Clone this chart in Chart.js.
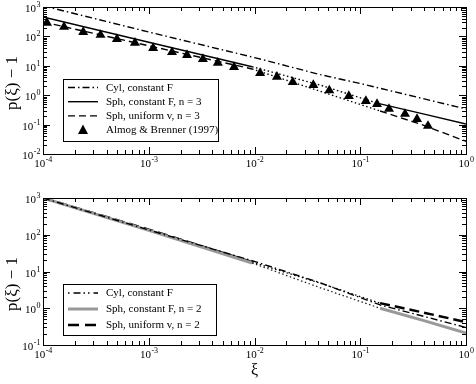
<!DOCTYPE html>
<html>
<head>
<meta charset="utf-8">
<script src="https://cdn.jsdelivr.net/npm/chart.js@4"></script>
<style>
  body { margin: 0; background: #fff; }
  #wrap { position: relative; width: 476px; height: 384px; background: #fff; }
  canvas { position: absolute; left: 0; }
</style>
</head>
<body>
<div id="wrap">
  <canvas id="top" width="476" height="190" style="top:0"></canvas>
  <canvas id="bottom" width="476" height="194" style="top:190px"></canvas>
</div>
<script>
// upper panel (n = 3)
let cylXi = [1e-4, 1e-3, 1e-2, 0.042, 0.1, 1];
let cylP = [1100, 141, 19, 5.0, 2.5, 0.34];

let sphF3Xi = [1e-4, 1e-3, 0.0095, 0.042, 0.144, 0.367, 1];
let sphF3P = [457, 63, 9.3, 2.2, 0.54, 0.245, 0.105];

let sphV3Xi = [1e-4, 1e-3, 0.0095, 0.042, 0.154, 0.367, 1];
let sphV3P = [310, 48, 7.8, 1.35, 0.29, 0.105, 0.027];

// Almog & Brenner (1997) points
let abXi = [1.09e-4, 1.58e-4, 2.4e-4, 3.5e-4, 5.0e-4, 7.4e-4, 1.1e-3, 1.66e-3, 2.3e-3, 3.25e-3, 4.5e-3, 6.4e-3,
            0.0113, 0.0163, 0.023, 0.036, 0.051, 0.078, 0.113, 0.144, 0.187, 0.265, 0.344, 0.437];
let abP = [290, 210, 141, 112, 81, 60, 40, 29, 23, 17, 12.6, 9.1,
           5.7, 4.2, 2.8, 2.2, 1.45, 0.93, 0.63, 0.50, 0.34, 0.23, 0.155, 0.09];

// lower panel (n = 2)
let cyl2Xi = [1e-4, 1e-3, 0.0105, 0.042, 0.154, 1];
let cyl2P = [1000, 135, 18, 4.9, 1.23, 0.3];

let sphF2Xi = [1e-4, 1e-3, 0.0095, 0.042, 0.154, 0.4, 1];
let sphF2P = [1000, 132, 17, 3.6, 1.0, 0.46, 0.21];

let sphV2Xi = [1e-4, 1e-3, 0.0095, 0.042, 0.154, 0.4, 1];
let sphV2P = [1000, 138, 18, 4.8, 1.38, 0.76, 0.42];

// tick labels (exponents of 10)
let xExps = ['-4', '-3', '-2', '-1', '0'];
let yExpsTop = ['-2', '-1', '0', '1', '2', '3'];
let yExpsBottom = ['-1', '0', '1', '2', '3'];

const serif = '"Liberation Serif", "Times New Roman", serif';

function pts(xs, ys) {
    return xs.map((x, i) => ({ x: x, y: ys[i] }));
}

// middle part of the sphere curves is drawn dotted
function midDash(lo, hi) {
    return ctx => (ctx.p0.parsed.x >= lo && ctx.p1.parsed.x <= hi) ? [1.5, 2.5] : undefined;
}
function midColor(lo, hi, c) {
    return ctx => (ctx.p0.parsed.x >= lo && ctx.p1.parsed.x <= hi) ? c : undefined;
}
function midWidth(lo, hi, w) {
    return ctx => (ctx.p0.parsed.x >= lo && ctx.p1.parsed.x <= hi) ? w : undefined;
}

function drawPow(ctx, exp, x, y, align) {
    ctx.font = '11px ' + serif;
    let w1 = ctx.measureText('10').width;
    ctx.font = '8px ' + serif;
    let w2 = ctx.measureText(exp).width;
    let left = align === 'center' ? x - (w1 + w2) / 2 : x - w1 - w2;
    ctx.textAlign = 'left';
    ctx.textBaseline = 'alphabetic';
    ctx.fillStyle = '#000';
    ctx.font = '11px ' + serif;
    ctx.fillText('10', left, y);
    ctx.font = '8px ' + serif;
    ctx.fillText(exp, left + w1 + 0.5, y - 5);
}

function framePlugin(cfg) {
    return {
        id: 'frame',
        afterDraw(chart) {
            let ctx = chart.ctx;
            let a = chart.chartArea;
            let x = chart.scales.x, y = chart.scales.y;
            ctx.save();
            ctx.strokeStyle = '#000';
            ctx.lineWidth = 1;
            ctx.setLineDash([]);
            ctx.strokeRect(Math.round(a.left) + 0.5, Math.round(a.top) + 0.5,
                Math.round(a.right - a.left), Math.round(a.bottom - a.top));

            // ticks, inward on all sides
            ctx.beginPath();
            for (let d = -4; d <= 0; d++) {
                for (let m = 1; m <= 9; m++) {
                    let v = m * Math.pow(10, d);
                    if (v > 1.0001) break;
                    let px = Math.round(x.getPixelForValue(v)) + 0.5;
                    let len = m === 1 ? 7 : 4;
                    ctx.moveTo(px, a.bottom); ctx.lineTo(px, a.bottom - len);
                    ctx.moveTo(px, a.top); ctx.lineTo(px, a.top + len);
                }
            }
            for (let d = cfg.yMinExp; d <= cfg.yMaxExp; d++) {
                for (let m = 1; m <= 9; m++) {
                    let v = m * Math.pow(10, d);
                    if (v > Math.pow(10, cfg.yMaxExp) * 1.0001) break;
                    let py = Math.round(y.getPixelForValue(v)) + 0.5;
                    let len = m === 1 ? 7 : 4;
                    ctx.moveTo(a.left, py); ctx.lineTo(a.left + len, py);
                    ctx.moveTo(a.right, py); ctx.lineTo(a.right - len, py);
                }
            }
            ctx.stroke();

            // tick labels
            xExps.forEach((e, i) => {
                drawPow(ctx, e, x.getPixelForValue(Math.pow(10, i - 4)), a.bottom + 13, 'center');
            });
            cfg.yExps.forEach((e, i) => {
                drawPow(ctx, e, a.left - 3, y.getPixelForValue(Math.pow(10, cfg.yMinExp + i)) + 5, 'right');
            });

            // axis titles
            ctx.save();
            ctx.translate(13, cfg.yTitleY);
            ctx.rotate(-Math.PI / 2);
            ctx.textAlign = 'center';
            ctx.textBaseline = 'middle';
            ctx.font = '17px ' + serif;
            ctx.fillText('p(ξ) − 1', 0, 0);
            ctx.restore();
            if (cfg.xTitle) {
                ctx.textAlign = 'center';
                ctx.textBaseline = 'middle';
                ctx.font = '16px ' + serif;
                ctx.fillText(cfg.xTitle, (a.left + a.right) / 2, cfg.xTitleY);
            }

            // legend box
            let b = cfg.box;
            ctx.fillStyle = '#fff';
            ctx.fillRect(b[0], b[1], b[2] - b[0], b[3] - b[1]);
            ctx.strokeStyle = '#000';
            ctx.lineWidth = 1;
            ctx.strokeRect(b[0] + 0.5, b[1] + 0.5, b[2] - b[0], b[3] - b[1]);
            chart.data.datasets.forEach((ds, i) => {
                let ry = cfg.rows[i];
                if (ds.showLine === false) {
                    ctx.fillStyle = '#000';
                    ctx.beginPath();
                    ctx.moveTo(83, ry - 5.5);
                    ctx.lineTo(88, ry + 4);
                    ctx.lineTo(78, ry + 4);
                    ctx.closePath();
                    ctx.fill();
                } else {
                    ctx.strokeStyle = ds.borderColor;
                    ctx.lineWidth = ds.borderWidth;
                    ctx.setLineDash(ds.legendDash || ds.borderDash || []);
                    ctx.beginPath();
                    ctx.moveTo(68, ry);
                    ctx.lineTo(98, ry);
                    ctx.stroke();
                    ctx.setLineDash([]);
                }
                ctx.fillStyle = '#000';
                ctx.font = '11px ' + serif;
                ctx.textAlign = 'left';
                ctx.textBaseline = 'middle';
                ctx.fillText(ds.label, 106, ry + 0.5);
            });
            ctx.restore();
        }
    };
}

function baseOptions(pad, yMin, yMax) {
    return {
        responsive: false,
        animation: false,
        devicePixelRatio: 1,
        layout: { padding: pad },
        plugins: { legend: { display: false }, tooltip: { enabled: false } },
        elements: { point: { radius: 0 }, line: { tension: 0, borderCapStyle: 'butt' } },
        scales: {
            x: { type: 'logarithmic', min: 1e-4, max: 1, display: false },
            y: { type: 'logarithmic', min: yMin, max: yMax, display: false }
        }
    };
}

new Chart(document.getElementById('top'), {
    type: 'line',
    data: {
        datasets: [
            {
                label: 'Cyl, constant F',
                data: pts(cylXi, cylP),
                borderColor: '#000', borderWidth: 1.4,
                borderDash: [7, 3, 1.5, 3]
            },
            {
                label: 'Sph, constant F, n = 3',
                data: pts(sphF3Xi, sphF3P),
                borderColor: '#000', borderWidth: 1.4,
                segment: { borderDash: midDash(0.009, 0.15) }
            },
            {
                label: 'Sph, uniform v, n = 3',
                data: pts(sphV3Xi, sphV3P),
                borderColor: '#000', borderWidth: 1.4,
                borderDash: [7, 4],
                segment: { borderDash: midDash(0.009, 0.16) }
            },
            {
                label: 'Almog & Brenner (1997)',
                data: pts(abXi, abP),
                showLine: false,
                pointStyle: 'triangle',
                pointRadius: 5.8,
                backgroundColor: '#000',
                borderColor: '#000',
                borderWidth: 0
            }
        ]
    },
    options: baseOptions({ left: 43, top: 7, right: 10, bottom: 36 }, 0.01, 1000),
    plugins: [framePlugin({
        yMinExp: -2, yMaxExp: 3, yExps: yExpsTop, yTitleY: 83,
        box: [63, 79, 218, 141], rows: [87.5, 101.7, 115.9, 130.1]
    })]
});

new Chart(document.getElementById('bottom'), {
    type: 'line',
    data: {
        datasets: [
            {
                label: 'Cyl, constant F',
                data: pts(cyl2Xi, cyl2P),
                borderColor: '#000', borderWidth: 1.4,
                borderDash: [7, 3, 1.5, 3],
                legendDash: [1.5, 4, 7, 3, 1.5, 3]
            },
            {
                label: 'Sph, constant F, n = 2',
                data: pts(sphF2Xi, sphF2P),
                borderColor: '#999', borderWidth: 3,
                segment: {
                    borderDash: midDash(0.009, 0.16),
                    borderColor: midColor(0.009, 0.16, '#222'),
                    borderWidth: midWidth(0.009, 0.16, 1.3)
                }
            },
            {
                label: 'Sph, uniform v, n = 2',
                data: pts(sphV2Xi, sphV2P),
                borderColor: '#000', borderWidth: 2.5,
                borderDash: [10, 5],
                legendDash: [11, 6],
                segment: {
                    borderDash: midDash(0.009, 0.16),
                    borderWidth: midWidth(0.009, 0.16, 1.3)
                }
            }
        ]
    },
    options: baseOptions({ left: 43, top: 8, right: 10, bottom: 39 }, 0.1, 1000),
    plugins: [framePlugin({
        yMinExp: -1, yMaxExp: 3, yExps: yExpsBottom, yTitleY: 94,
        xTitle: 'ξ', xTitleY: 181,
        box: [63, 284, 216, 335].map((v, i) => i % 2 ? v - 190 : v),
        rows: [293, 309, 325].map(v => v - 190)
    })]
});
</script>
</body>
</html>
